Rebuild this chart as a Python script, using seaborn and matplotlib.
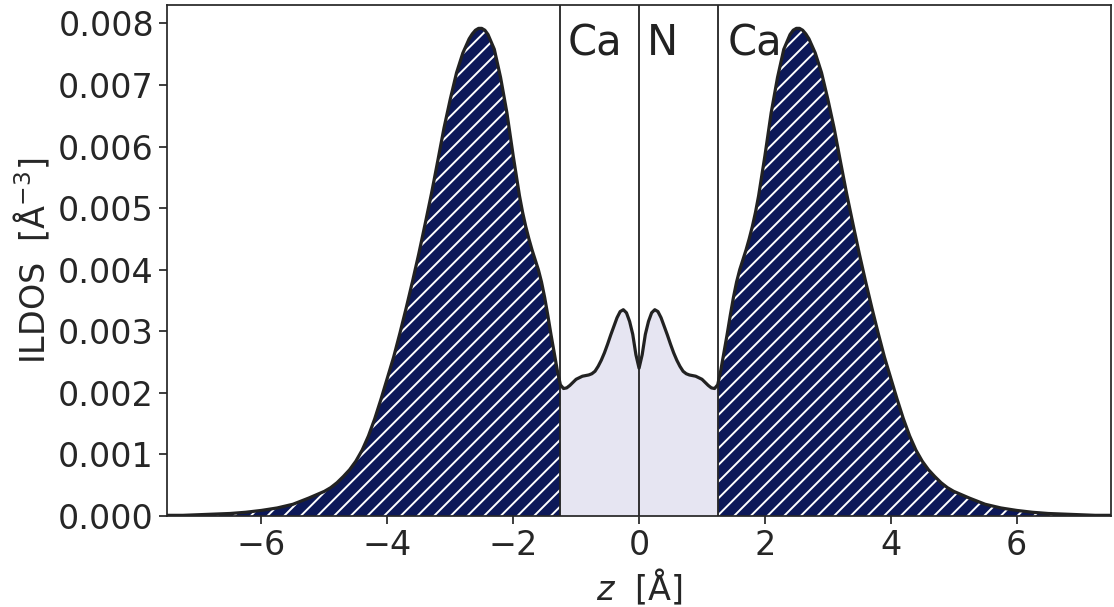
import numpy as np
import pandas as pd
import matplotlib
matplotlib.use("Agg")
import matplotlib.pyplot as plt
import seaborn as sns

# Integrated local density of states along z (Å)
z_left = [-7.50, -7.25, -7.00, -6.75, -6.50, -6.25, -6.00, -5.75, -5.50, -5.25,
          -5.00, -4.90, -4.80, -4.70, -4.60, -4.50, -4.40, -4.30, -4.20, -4.10,
          -4.00, -3.90, -3.80, -3.70, -3.60, -3.50, -3.40, -3.30, -3.20, -3.10,
          -3.00, -2.90, -2.80, -2.70, -2.65, -2.60, -2.55, -2.50, -2.45, -2.40,
          -2.30, -2.20, -2.10, -2.05, -2.00, -1.95, -1.90, -1.85, -1.80, -1.75,
          -1.70, -1.65, -1.60, -1.55, -1.50, -1.45, -1.40, -1.35, -1.30, -1.25,
          -1.20, -1.15, -1.10, -1.00, -0.90, -0.85, -0.80, -0.75, -0.70, -0.65,
          -0.60, -0.55, -0.50, -0.45, -0.40, -0.35, -0.30, -0.25, -0.20, -0.15,
          -0.10, -0.05]
ildos_left = [0.00001, 0.00001, 0.00002, 0.00003, 0.00004, 0.00006, 0.00009, 0.00013, 0.00019, 0.00029,
              0.00040, 0.00046, 0.00054, 0.00064, 0.00075, 0.00089, 0.00107, 0.00130, 0.00158, 0.00190,
              0.00224, 0.00258, 0.00297, 0.00338, 0.00381, 0.00426, 0.00474, 0.00523, 0.00576, 0.00630,
              0.00677, 0.00720, 0.00752, 0.00775, 0.00783, 0.00789, 0.00792, 0.00792, 0.00789, 0.00782,
              0.00758, 0.00712, 0.00655, 0.00620, 0.00585, 0.00552, 0.00520, 0.00493, 0.00470, 0.00450,
              0.00432, 0.00416, 0.00400, 0.00380, 0.00355, 0.00326, 0.00295, 0.00266, 0.00237, 0.00213,
              0.00207, 0.00208, 0.00212, 0.00222, 0.00227, 0.00228, 0.00229, 0.00231, 0.00235, 0.00243,
              0.00253, 0.00265, 0.00279, 0.00294, 0.00308, 0.00322, 0.00332, 0.00335, 0.00330, 0.00316,
              0.00295, 0.00262]
z_center = [0.00]
ildos_center = [0.00240]
z_right = [0.05, 0.10, 0.15, 0.20, 0.25, 0.30, 0.35, 0.40, 0.45, 0.50,
           0.55, 0.60, 0.65, 0.70, 0.75, 0.80, 0.85, 0.90, 1.00, 1.10,
           1.15, 1.20, 1.25, 1.30, 1.35, 1.40, 1.45, 1.50, 1.55, 1.60,
           1.65, 1.70, 1.75, 1.80, 1.85, 1.90, 1.95, 2.00, 2.05, 2.10,
           2.20, 2.30, 2.40, 2.45, 2.50, 2.55, 2.60, 2.65, 2.70, 2.80,
           2.90, 3.00, 3.10, 3.20, 3.30, 3.40, 3.50, 3.60, 3.70, 3.80,
           3.90, 4.00, 4.10, 4.20, 4.30, 4.40, 4.50, 4.60, 4.70, 4.80,
           4.90, 5.00, 5.25, 5.50, 5.75, 6.00, 6.25, 6.50, 6.75, 7.00,
           7.25, 7.50]
ildos_right = [0.00262, 0.00295, 0.00316, 0.00330, 0.00335, 0.00332, 0.00322, 0.00308, 0.00294, 0.00279,
               0.00265, 0.00253, 0.00243, 0.00235, 0.00231, 0.00229, 0.00228, 0.00227, 0.00222, 0.00212,
               0.00208, 0.00207, 0.00213, 0.00237, 0.00266, 0.00295, 0.00326, 0.00355, 0.00380, 0.00400,
               0.00416, 0.00432, 0.00450, 0.00470, 0.00493, 0.00520, 0.00552, 0.00585, 0.00620, 0.00655,
               0.00712, 0.00758, 0.00782, 0.00789, 0.00792, 0.00792, 0.00789, 0.00783, 0.00775, 0.00752,
               0.00720, 0.00677, 0.00630, 0.00576, 0.00523, 0.00474, 0.00426, 0.00381, 0.00338, 0.00297,
               0.00258, 0.00224, 0.00190, 0.00158, 0.00130, 0.00107, 0.00089, 0.00075, 0.00064, 0.00054,
               0.00046, 0.00040, 0.00029, 0.00019, 0.00013, 0.00009, 0.00006, 0.00004, 0.00003, 0.00002,
               0.00001, 0.00001]

# Layer boundaries and labels
boundaries = [-1.25, 0.0, 1.25]
layer_labels = ["Ca", "N", "Ca"]
label_x = [-1.13, 0.13, 1.40]

df = pd.DataFrame({"z": z_left + z_center + z_right,
                   "ildos": ildos_left + ildos_center + ildos_right})

sns.set_theme(style="ticks", rc={"axes.edgecolor": ".15",
                                 "xtick.color": ".15", "ytick.color": ".15",
                                 "axes.linewidth": 1.25,
                                 "xtick.major.size": 6, "ytick.major.size": 6,
                                 "xtick.major.width": 1.25, "ytick.major.width": 1.25,
                                 "hatch.linewidth": 1.4})
plt.rcParams["font.family"] = ["DejaVu Sans"]

fig = plt.figure(figsize=(11.14, 6.07), dpi=100)
ax = fig.add_axes([0.150, 0.150, 0.8473, 0.8418])

zz = df["z"].to_numpy()
yy = df["ildos"].to_numpy()
inner = (zz >= boundaries[0]) & (zz <= boundaries[2])

navy = "#0c1858"
ax.fill_between(zz, 0, yy, where=(zz <= boundaries[0]), facecolor=navy,
                edgecolor="white", hatch="//", linewidth=0)
ax.fill_between(zz, 0, yy, where=(zz >= boundaries[2]), facecolor=navy,
                edgecolor="white", hatch="//", linewidth=0)
ax.fill_between(zz, 0, yy, where=inner, facecolor="#e6e5f2", linewidth=0)

sns.lineplot(data=df, x="z", y="ildos", ax=ax, color="#222222", linewidth=2.3,
             sort=False)

for b in boundaries:
    ax.axvline(b, color="#222222", linewidth=1.3)

for lx, lab in zip(label_x, layer_labels):
    ax.text(lx, 0.00748, lab, fontsize=30, color="#222222",
            ha="left", va="baseline")

ax.set_xlim(-7.5, 7.5)
ax.set_ylim(0, 0.0083)
ax.set_xticks([-6, -4, -2, 0, 2, 4, 6])
ax.set_yticks([0.000, 0.001, 0.002, 0.003, 0.004, 0.005, 0.006, 0.007, 0.008])
ax.set_yticklabels([f"{v:.3f}" for v in ax.get_yticks()])
ax.tick_params(labelsize=24)
ax.set_xlabel(r"$z$  [Å]", fontsize=24)
ax.set_ylabel(r"ILDOS  [Å$^{-3}$]", fontsize=24)

fig.savefig("out.png", dpi=100)
